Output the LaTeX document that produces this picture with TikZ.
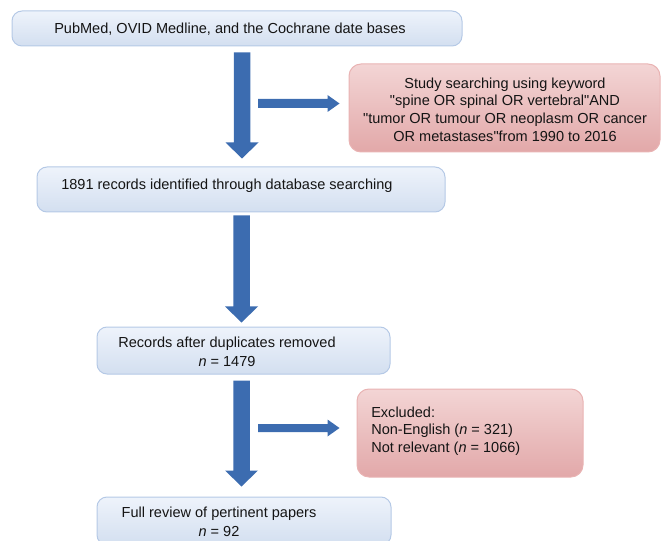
\documentclass[tikz,border=0pt]{standalone}
\usepackage{fontspec}
\newfontfamily\libsans{Liberation Sans}
\usetikzlibrary{calc}
\definecolor{arrowblue}{HTML}{3C6CB0}
\definecolor{bluetop}{HTML}{EEF3FB}
\definecolor{bluebot}{HTML}{D3DFF0}
\definecolor{blueedge}{HTML}{B5C9E6}
\definecolor{redtop}{HTML}{F3D5D5}
\definecolor{redbot}{HTML}{E2A8A9}
\definecolor{rededge}{HTML}{E9B3B3}
\newcommand{\varrowfill}[2]{%
  \fill[arrowblue] ($(#1)+(-8.25,0)$) -- ($(#1)+(8.25,0)$) -- ($(#2)+(8.25,-16)$) -- ($(#2)+(16.5,-16)$) -- (#2) -- ($(#2)+(-16.5,-16)$) -- ($(#2)+(-8.25,-16)$) -- cycle;}
\newcommand{\harrowfill}[3]{%
  \fill[arrowblue] ($(#1)+(0,-#3)$) -- ($(#2)+(-12,-#3)$) -- ($(#2)+(-12,-8.5)$) -- (#2) -- ($(#2)+(-12,8.5)$) -- ($(#2)+(-12,#3)$) -- ($(#1)+(0,#3)$) -- cycle;}
\begin{document}
\begin{tikzpicture}[x=0.75pt,y=-0.75pt,
  bluebox/.style={draw=blueedge, line width=0.75pt, rounded corners=7.5pt, top color=bluetop, bottom color=bluebot, inner sep=0pt},
  redbox/.style={draw=rededge, line width=0.75pt, rounded corners=9pt, top color=redtop, bottom color=redbot, inner sep=0pt},
  lbl/.style={font=\libsans\fontsize{10.9}{14}\selectfont, inner sep=0pt, text=black!92},
  rlbl/.style={font=\libsans\fontsize{10.9}{13.3}\selectfont, inner sep=0pt, text=black!92}]
\useasboundingbox (0,0) rectangle (663,541);
\clip (0,0) rectangle (663,541);
% boxes
\node[bluebox, minimum width=337.5pt, minimum height=26.25pt] (b1) at (237,28.5) {};
\node[bluebox, minimum width=306pt, minimum height=33.75pt] (b2) at (241,189.5) {};
\node[bluebox, minimum width=219.75pt, minimum height=35.25pt] (b3) at (243.5,350.5) {};
\node[bluebox, minimum width=220.5pt, minimum height=36pt] (b4) at (244,521) {};
\node[redbox, minimum width=233.25pt, minimum height=66pt] (r1) at (504.5,108) {};
\node[redbox, minimum width=169.5pt, minimum height=66pt] (r2) at (470,433) {};
% texts
\node[lbl] (t1) at (230,29) {PubMed, OVID Medline, and the Cochrane date bases};
\node[lbl, anchor=west] (t2) at (61,186) {1891 records identified through database searching};
\node[lbl, align=center] (t3) at (227,351.5) {Records after duplicates removed\\\textit{n} = 1479};
\node[lbl, align=center] (t4) at (219,522) {Full review of pertinent papers\\\textit{n} = 92};
\node[rlbl, align=center] (tr1) at (505,109.5) {Study searching using keyword\\"spine OR spinal OR vertebral"AND\\"tumor OR tumour OR neoplasm OR cancer\\OR metastases"from 1990 to 2016};
\node[rlbl, align=left, anchor=west] (tr2) at (371,431) {Excluded:\\Non-English (\textit{n} = 321)\\Not relevant (\textit{n} = 1066)};
% arrow end points
\coordinate (a1s) at ($(b1.south)+(5,6)$);
\coordinate (a1t) at ($(b2.north)+(1,-8)$);
\coordinate (a2s) at ($(b2.south)+(0.5,3)$);
\coordinate (a2t) at ($(b3.north)+(-2,-4)$);
\coordinate (a3s) at ($(b3.south)+(-2,6)$);
\coordinate (a3t) at ($(b4.north)+(-2.5,-10)$);
\coordinate (h1s) at (258,103.5);
\coordinate (h1t) at ($(r1.west)+(-9,-4.5)$);
\coordinate (h2s) at (258,428);
\coordinate (h2t) at ($(r2.west)+(-17,-5)$);
\varrowfill{a1s}{a1t}
\varrowfill{a2s}{a2t}
\varrowfill{a3s}{a3t}
\harrowfill{h1s}{h1t}{4.5}
\harrowfill{h2s}{h2t}{4}
\end{tikzpicture}
\end{document}
